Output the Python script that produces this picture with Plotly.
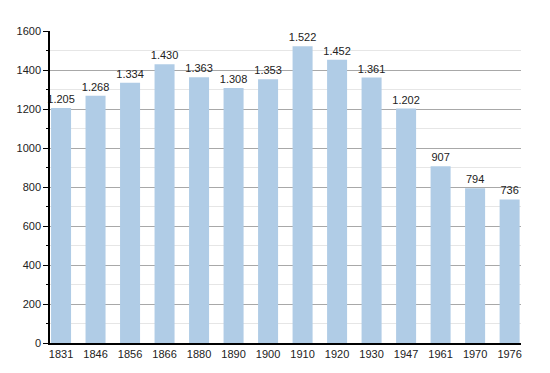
import plotly.graph_objects as go

years = ["1831", "1846", "1856", "1866", "1880", "1890", "1900", "1910", "1920", "1930", "1947", "1961", "1970", "1976"]
population = [1205, 1268, 1334, 1430, 1363, 1308, 1353, 1522, 1452, 1361, 1202, 907, 794, 736]
y_ticks = [0, 200, 400, 600, 800, 1000, 1200, 1400, 1600]

fig = go.Figure()
fig.add_trace(go.Bar(
    x=years,
    y=population,
    marker=dict(color="#b0cce6", line=dict(width=0)),
    width=0.58,
    texttemplate="%{y:,}",
    textposition="outside",
    constraintext="none",
    textfont=dict(family="Liberation Sans, Arial, sans-serif", size=11, color="#222"),
    cliponaxis=False,
))

# page body has an 8px default margin, so the figure is sized to compensate
fig.update_layout(
    width=542, height=365,
    margin=dict(l=42, r=29, t=23, b=30, autoexpand=False),
    paper_bgcolor="white",
    plot_bgcolor="white",
    separators=",.",
    showlegend=False,
    font=dict(family="Liberation Sans, Arial, sans-serif", size=11, color="#222"),
    xaxis=dict(
        type="category",
        range=[-0.32, 13.33],
        automargin=False,
        showline=True, linecolor="black", linewidth=1.5,
        ticks="", showgrid=False,
        tickfont=dict(size=11, color="#222"),
    ),
    yaxis=dict(
        range=[0, 1600],
        tickvals=y_ticks,
        automargin=False,
        showline=True, linecolor="black", linewidth=1.5,
        ticks="outside", ticklen=5, tickcolor="black",
        showgrid=True, gridcolor="#a8a8a8", gridwidth=1,
        minor=dict(dtick=100, showgrid=True, gridcolor="#e6e6e6", ticks="outside", ticklen=2, tickcolor="black"),
        zeroline=False,
        tickfont=dict(size=11, color="#222"),
    ),
)

fig.write_html("out.html")
